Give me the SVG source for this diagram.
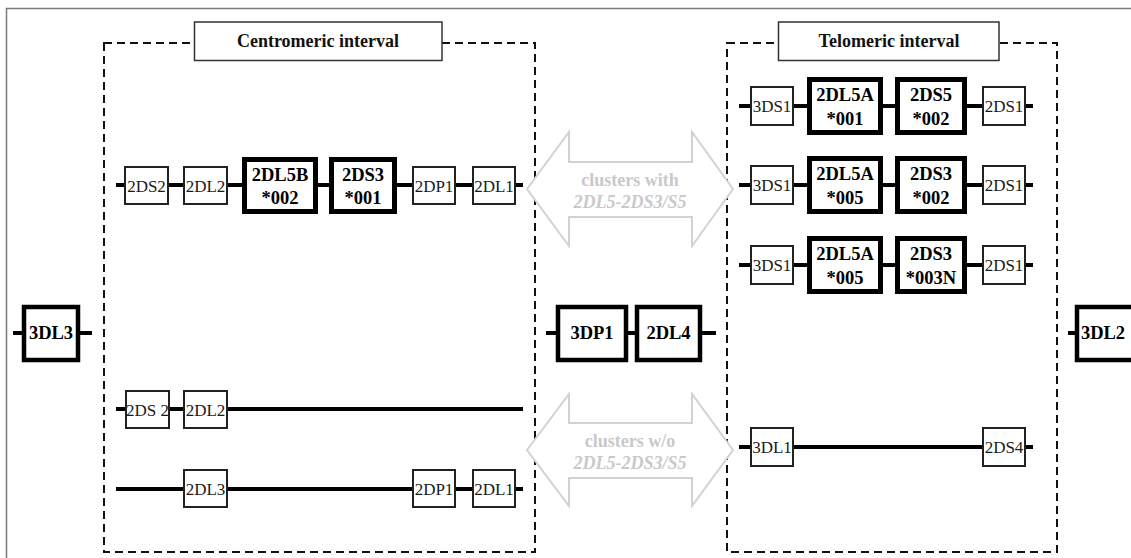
<svg xmlns="http://www.w3.org/2000/svg" width="1131" height="558" viewBox="0 0 1131 558">
  <style>
    .frame { fill: none; stroke: #7a7a7a; stroke-width: 1.5; }
    .interval { fill: none; stroke: #111; stroke-width: 2; stroke-dasharray: 8 5; }
    .title { fill: #fff; stroke: #333; stroke-width: 1.5; }
    .title-text { font-family: "Liberation Serif", "Times New Roman", serif; font-weight: bold; font-size: 18px; fill: #111; text-anchor: middle; }
    .wire { stroke: #000; stroke-width: 4; fill: none; }
    .gene { fill: #fff; stroke: #222; stroke-width: 2; }
    .gene-text { font-family: "Liberation Serif", "Times New Roman", serif; font-size: 17px; fill: #1a1a1a; text-anchor: middle; }
    .key { fill: #fff; stroke: #000; stroke-width: 5; }
    .key-text { font-family: "Liberation Serif", "Times New Roman", serif; font-weight: bold; font-size: 18.5px; fill: #000; text-anchor: middle; }
    .mid { fill: #fff; stroke: #000; stroke-width: 4.5; }
    .cluster { fill: #fff; stroke: #d2d2d2; stroke-width: 2; }
    .cluster-text { font-family: "Liberation Serif", "Times New Roman", serif; font-weight: bold; font-size: 18px; fill: #c9c9c9; text-anchor: middle; }
    .cluster-text.it { font-style: italic; }
  </style>

  <!-- outer frame -->
  <path class="frame" d="M6.5 558 V8.5 H1131"/>

  <!-- interval enclosures -->
  <g id="centromeric-interval">
    <rect class="interval" x="104" y="43" width="431" height="509"/>
    <rect class="title" x="194.5" y="22" width="247.5" height="38.5"/>
    <text class="title-text" x="318" y="47">Centromeric interval</text>
  </g>
  <g id="telomeric-interval">
    <rect class="interval" x="727" y="43" width="330" height="509"/>
    <rect class="title" x="778.5" y="22" width="220.5" height="38.5"/>
    <text class="title-text" x="889" y="47">Telomeric interval</text>
  </g>

  <!-- connectors: haplotype backbones -->
  <g id="connectors">
    <line class="wire" x1="116" y1="185" x2="523" y2="185"/>
    <line class="wire" x1="116" y1="409" x2="523" y2="409"/>
    <line class="wire" x1="116" y1="489" x2="523" y2="489"/>
    <line class="wire" x1="739" y1="106" x2="1033" y2="106"/>
    <line class="wire" x1="739" y1="185" x2="1033" y2="185"/>
    <line class="wire" x1="739" y1="265" x2="1033" y2="265"/>
    <line class="wire" x1="739" y1="447" x2="1033" y2="447"/>
    <line class="wire" x1="13" y1="333" x2="92" y2="333"/>
    <line class="wire" x1="546" y1="333" x2="716" y2="333"/>
    <line class="wire" x1="1068" y1="333" x2="1080" y2="333"/>
  </g>

  <!-- framework genes -->
  <g id="n-3DL3"><rect class="mid" x="24" y="307" width="54" height="53"/><text class="key-text" x="51" y="339">3DL3</text></g>
  <g id="n-3DP1"><rect class="mid" x="558" y="307" width="68" height="53"/><text class="key-text" x="592" y="339">3DP1</text></g>
  <g id="n-2DL4"><rect class="mid" x="637" y="307" width="63" height="53"/><text class="key-text" x="668.5" y="339">2DL4</text></g>
  <g id="n-3DL2"><rect class="mid" x="1077" y="307" width="60" height="53"/><text class="key-text" x="1103" y="339">3DL2</text></g>

  <!-- centromeric haplotype 1 -->
  <g id="c1-2DS2"><rect class="gene" x="125" y="167" width="43" height="37"/><text class="gene-text" x="146.5" y="192">2DS2</text></g>
  <g id="c1-2DL2"><rect class="gene" x="184" y="167" width="43" height="37"/><text class="gene-text" x="205.5" y="192">2DL2</text></g>
  <g id="c1-2DL5B"><rect class="key" x="244.5" y="159.5" width="71" height="52"/><text class="key-text" x="280" y="181">2DL5B</text><text class="key-text" x="280" y="204">*002</text></g>
  <g id="c1-2DS3"><rect class="key" x="331.5" y="159.5" width="63" height="52"/><text class="key-text" x="363" y="181">2DS3</text><text class="key-text" x="363" y="204">*001</text></g>
  <g id="c1-2DP1"><rect class="gene" x="413" y="167" width="42" height="37"/><text class="gene-text" x="434" y="192">2DP1</text></g>
  <g id="c1-2DL1"><rect class="gene" x="473" y="167" width="42" height="37"/><text class="gene-text" x="494" y="192">2DL1</text></g>

  <!-- centromeric haplotype 2 -->
  <g id="c2-2DS2"><rect class="gene" x="126" y="391" width="43" height="37"/><text class="gene-text" x="147.5" y="416">2DS 2</text></g>
  <g id="c2-2DL2"><rect class="gene" x="184" y="391" width="43" height="37"/><text class="gene-text" x="205.5" y="416">2DL2</text></g>

  <!-- centromeric haplotype 3 -->
  <g id="c3-2DL3"><rect class="gene" x="184" y="470" width="43" height="37"/><text class="gene-text" x="205.5" y="495">2DL3</text></g>
  <g id="c3-2DP1"><rect class="gene" x="413" y="470" width="42" height="37"/><text class="gene-text" x="434" y="495">2DP1</text></g>
  <g id="c3-2DL1"><rect class="gene" x="473" y="470" width="42" height="37"/><text class="gene-text" x="494" y="495">2DL1</text></g>

  <!-- telomeric haplotype 1 -->
  <g id="t1-3DS1"><rect class="gene" x="751" y="87" width="42" height="38"/><text class="gene-text" x="772" y="112">3DS1</text></g>
  <g id="t1-2DL5A"><rect class="key" x="809.5" y="79.5" width="71" height="53"/><text class="key-text" x="845" y="101">2DL5A</text><text class="key-text" x="845" y="125">*001</text></g>
  <g id="t1-2DS5"><rect class="key" x="897.5" y="79.5" width="67" height="53"/><text class="key-text" x="931" y="101">2DS5</text><text class="key-text" x="931" y="125">*002</text></g>
  <g id="t1-2DS1"><rect class="gene" x="983" y="87" width="42" height="38"/><text class="gene-text" x="1004" y="112">2DS1</text></g>

  <!-- telomeric haplotype 2 -->
  <g id="t2-3DS1"><rect class="gene" x="751" y="166" width="42" height="38"/><text class="gene-text" x="772" y="191">3DS1</text></g>
  <g id="t2-2DL5A"><rect class="key" x="809.5" y="158.5" width="71" height="53"/><text class="key-text" x="845" y="180">2DL5A</text><text class="key-text" x="845" y="204">*005</text></g>
  <g id="t2-2DS3"><rect class="key" x="897.5" y="158.5" width="67" height="53"/><text class="key-text" x="931" y="180">2DS3</text><text class="key-text" x="931" y="204">*002</text></g>
  <g id="t2-2DS1"><rect class="gene" x="983" y="166" width="42" height="38"/><text class="gene-text" x="1004" y="191">2DS1</text></g>

  <!-- telomeric haplotype 3 -->
  <g id="t3-3DS1"><rect class="gene" x="751" y="246" width="42" height="38"/><text class="gene-text" x="772" y="271">3DS1</text></g>
  <g id="t3-2DL5A"><rect class="key" x="809.5" y="238.5" width="71" height="53"/><text class="key-text" x="845" y="260">2DL5A</text><text class="key-text" x="845" y="284">*005</text></g>
  <g id="t3-2DS3"><rect class="key" x="897.5" y="238.5" width="67" height="53"/><text class="key-text" x="931" y="260">2DS3</text><text class="key-text" x="931" y="284">*003N</text></g>
  <g id="t3-2DS1"><rect class="gene" x="983" y="246" width="42" height="38"/><text class="gene-text" x="1004" y="271">2DS1</text></g>

  <!-- telomeric haplotype 4 -->
  <g id="t4-3DL1"><rect class="gene" x="751" y="428" width="42" height="38"/><text class="gene-text" x="772" y="453">3DL1</text></g>
  <g id="t4-2DS4"><rect class="gene" x="983" y="428" width="42" height="38"/><text class="gene-text" x="1004" y="453">2DS4</text></g>

  <!-- cluster pairing arrows -->
  <g id="clusters-with">
    <path class="cluster" d="M527 189 L569 132 V162 H692 V132 L733 189 L692 246 V217 H569 V246 Z"/>
    <text class="cluster-text" x="630" y="186">clusters with</text>
    <text class="cluster-text it" x="630" y="208">2DL5-2DS3/S5</text>
  </g>
  <g id="clusters-without">
    <path class="cluster" d="M527 450 L569 394 V423 H692 V394 L733 450 L692 506 V478 H569 V506 Z"/>
    <text class="cluster-text" x="630" y="447">clusters w/o</text>
    <text class="cluster-text it" x="630" y="469">2DL5-2DS3/S5</text>
  </g>
</svg>
